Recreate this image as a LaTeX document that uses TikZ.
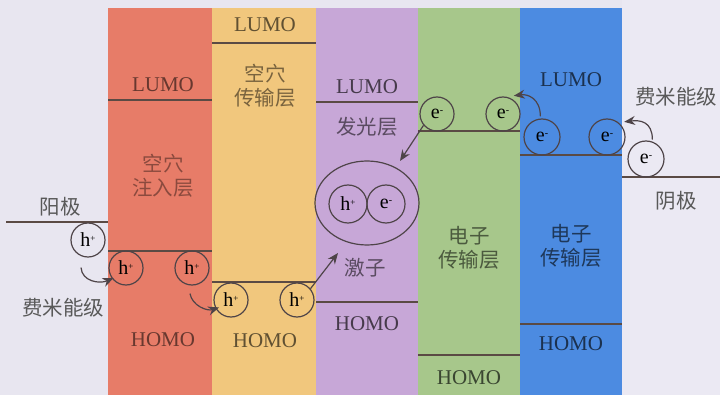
\documentclass[tikz,border=0pt]{standalone}
\usepackage{fontspec}
\setmainfont{Liberation Serif}
\newfontfamily\cjk{Noto Sans CJK SC}
\usetikzlibrary{arrows.meta,shapes.geometric,calc}
\definecolor{bgL}{HTML}{E8E6F0}
\definecolor{bgR}{HTML}{EBE9F3}
\definecolor{cRed}{HTML}{E77C68}
\definecolor{cYel}{HTML}{F1C77D}
\definecolor{cPur}{HTML}{C7A7D7}
\definecolor{cGrn}{HTML}{A7C78B}
\definecolor{cBlu}{HTML}{4C8BE1}
\definecolor{lvl}{HTML}{5A4A44}
\definecolor{ink}{HTML}{4E4448}
\tikzset{
  level/.style={draw=lvl,line width=1.3pt},
  orb/.style={font=\fontsize{21}{21}\selectfont},
  lab/.style={font=\cjk\fontsize{20.5}{24}\selectfont,align=center,inner sep=0pt},
  carrier/.style={circle,draw=ink,line width=1.2pt,minimum size=34pt,inner sep=0pt,font=\fontsize{20}{20}\selectfont},
  arr/.style={draw=ink,line width=1.2pt,-{Stealth[length=11pt,width=9pt]}},
}
\newcommand{\hole}{h\raisebox{0.55ex}{\fontsize{9}{9}\selectfont +}}
\newcommand{\elec}{e\raisebox{0.55ex}{\fontsize{10}{10}\selectfont -}}
\begin{document}
\begin{tikzpicture}[x=1pt,y=-1pt]
\useasboundingbox (0,0) rectangle (720,395);
% backgrounds
\fill[bgL] (0,0) rectangle (720,395);
\fill[bgR] (622,0) rectangle (720,395);
\fill[cRed] (108,8) rectangle (212,395);
\fill[cYel] (212,8) rectangle (316,395);
\fill[cPur] (316,8) rectangle (418,395);
\fill[cGrn] (418,8) rectangle (520,395);
\fill[cBlu] (520,8) rectangle (622,395);
% energy levels
\draw[level] (6,222) -- (108,222);
\draw[level] (108,100) -- (212,100);
\draw[level] (108,251) -- (212,251);
\draw[level] (212,43) -- (316,43);
\draw[level] (212,282) -- (316,282);
\draw[level] (316,102) -- (418,102);
\draw[level] (316,302) -- (418,302);
\draw[level] (418,131) -- (520,131);
\draw[level] (418,355) -- (520,355);
\draw[level] (520,155) -- (622,155);
\draw[level] (520,324) -- (622,324);
\draw[level] (622,177) -- (720,177);
% LUMO / HOMO labels
\node[orb,text=cRed!45!black] (rL) at (163,85) {LUMO};
\node[orb,text=cRed!45!black] (rH) at (163,340) {HOMO};
\node[orb,text=cYel!40!black] (yL) at (265,25) {LUMO};
\node[orb,text=cYel!40!black] (yH) at (265,341) {HOMO};
\node[orb,text=cPur!35!black] (pL) at (367,87) {LUMO};
\node[orb,text=cPur!35!black] (pH) at (367,324) {HOMO};
\node[orb,text=cGrn!35!black] (gH) at (469,378) {HOMO};
\node[orb,text=cBlu!35!black] (bL) at (571,80) {LUMO};
\node[orb,text=cBlu!35!black] (bH) at (571,344) {HOMO};
% layer labels
\node[lab,text=cRed!60!black] (hil) at (163,176) {空穴\\注入层};
\node[lab,text=cYel!50!black] (htl) at (265,86) {空穴\\传输层};
\node[lab,text=cPur!45!black] (eml) at (367,127) {发光层};
\node[lab,text=cPur!45!black] (exl) at (365,268) {激子};
\node[lab,text=cGrn!45!black] (etl1) at (469,248) {电子\\传输层};
\node[lab,text=cBlu!40!black] (etl2) at (571,246) {电子\\传输层};
\node[lab,text=black!65] (anode) at (60,207) {阳极};
\node[lab,text=black!65] (fermiL) at (63,308) {费米能级};
\node[lab,text=black!65] (cathode) at (676,201) {阴极};
\node[lab,text=black!65] (fermiR) at (676,97) {费米能级};
% carriers
\node[carrier] (ha) at (88,240) {\hole};
\node[carrier] (hr1) at (126,268) {\hole};
\node[carrier] (hr2) at (192,268) {\hole};
\node[carrier] (hy1) at (231,300) {\hole};
\node[carrier] (hy2) at (297,300) {\hole};
\node[ellipse,draw=ink,line width=1.2pt,minimum width=104pt,minimum height=84pt] (exc) at (367,203) {};
\node[carrier,minimum size=38pt] (hx) at (348,204) {\hole};
\node[carrier,minimum size=38pt] (ex) at (386,204) {\elec};
\node[carrier] (eg1) at (437,114) {\elec};
\node[carrier] (eg2) at (503,114) {\elec};
\node[carrier,minimum size=36pt] (eb1) at (542,137) {\elec};
\node[carrier,minimum size=36pt] (eb2) at (607,137) {\elec};
\node[carrier,minimum size=36pt] (ec) at (646,159) {\elec};
% arrows
\coordinate (t3) at (338,253);
\coordinate (t4) at (400,161);
\draw[arr] ([xshift=-7pt,yshift=-10pt]ha.south) .. controls +(1,14) and +(-14,6) .. ([xshift=2pt]hr1.215);
\draw[arr] ([xshift=-2pt,yshift=-8pt]hr2.south) .. controls +(2,12) and +(-12,4) .. ([xshift=4pt]hy1.205);
\draw[arr] (hy2.40) -- (t3);
\draw[arr] (eg1.220) -- (t4);
\draw[arr] ([yshift=2pt]eb1.95) .. controls +(0,-18) and +(14,-2) .. ([xshift=2pt,yshift=3pt]eg2.60);
\draw[arr] ([yshift=2pt]ec.70) .. controls +(0,-18) and +(16,-2) .. ([xshift=4pt,yshift=2pt]eb2.45);
\end{tikzpicture}
\end{document}
